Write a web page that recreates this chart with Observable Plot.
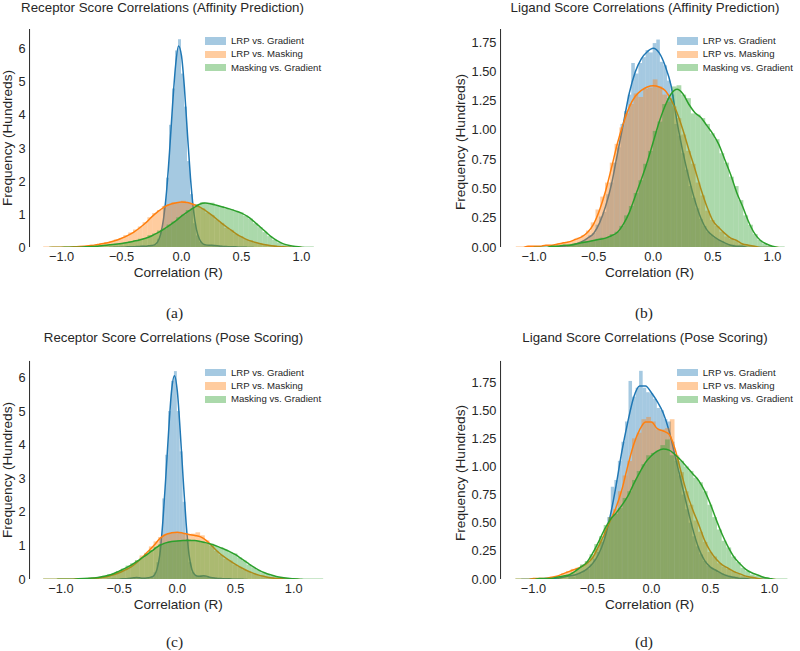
<!DOCTYPE html>
<html><head><meta charset="utf-8">
<script src="https://cdn.jsdelivr.net/npm/d3@7"></script>
<script src="https://cdn.jsdelivr.net/npm/@observablehq/plot@0.6"></script>
<style>
body{margin:0;background:#fff;}
#fig{position:relative;width:800px;height:651px;overflow:hidden;background:#fff;font-family:"Liberation Sans",Arial,sans-serif;color:#262626;}
#fig .t{position:absolute;white-space:nowrap;line-height:1.15;transform:translate(-50%,-50%);}
#fig .title{font-size:13.3px;}
#fig .alab{font-size:13.6px;}
#fig .ylab{font-size:13.6px;transform:translate(-50%,-50%) rotate(-90deg);}
#fig .cap{font-family:"Liberation Serif","Times New Roman",serif;font-size:15.5px;}
#fig .leg{position:absolute;white-space:nowrap;line-height:1;font-size:9.6px;transform:translateY(-50%);}
#fig .sw{position:absolute;width:21px;height:7.5px;}
#fig .plot{position:absolute;}
</style></head><body><div id="fig"></div>
<script>
// ---------------- data ----------------
const seriesNames = ["LRP vs. Gradient", "LRP vs. Masking", "Masking vs. Gradient"];
const panelTitles = [
  "Receptor Score Correlations (Affinity Prediction)",
  "Ligand Score Correlations (Affinity Prediction)",
  "Receptor Score Correlations (Pose Scoring)",
  "Ligand Score Correlations (Pose Scoring)"
];
const panelCaptions = ["(a)", "(b)", "(c)", "(d)"];
const xLabel = "Correlation (R)";
const yLabel = "Frequency (Hundreds)";
const xTicks = [-1, -0.5, 0, 0.5, 1];
const yTicksReceptor = [0, 1, 2, 3, 4, 5, 6];
const yTicksLigand = [0, 0.25, 0.5, 0.75, 1, 1.25, 1.5, 1.75];

// histogram bins: [first bin start, bin width], heights (hundreds)
// KDE curves: [first x, step], density values (hundreds)
// Panel (a) Receptor, Affinity Prediction
const aBlueBins = [-0.5, 0.025];
const aBlueHist = [0.01,0.01,0.02,0.01,0.02,0.03,0.02,0.04,0.03,0.04,0.04,0.06,0.25,0.52,1.25,2.1,3.7,4.8,5.95,6.29,5.25,4.25,2.6,1.6,0.72,0.35,0.16,0.09,0.07,0.06,0.07,0.05,0.04,0.04,0.03,0.02,0.02,0.02,0.01,0.01,0.01,0.01];
const aBlueKdeGrid = [-0.6, 0.025];
const aBlueKde = [0,0,0.01,0.01,0.01,0.01,0.02,0.02,0.02,0.03,0.03,0.04,0.04,0.05,0.06,0.08,0.16,0.39,0.86,1.68,2.88,4.28,5.48,6.1,5.8,4.8,3.41,2.1,1.13,0.54,0.25,0.12,0.08,0.07,0.07,0.06,0.05,0.04,0.03,0.03,0.02,0.02,0.02,0.01,0.01,0.01,0,0,0];
const aOrangeBins = [-1.0, 0.04];
const aOrangeHist = [0.01,0.01,0.02,0.02,0.04,0.05,0.07,0.09,0.12,0.15,0.17,0.23,0.27,0.36,0.44,0.53,0.62,0.75,0.90,1.03,1.12,1.24,1.29,1.36,1.34,1.40,1.33,1.31,1.22,1.17,1.04,0.97,0.83,0.73,0.58,0.52,0.40,0.33,0.24,0.20,0.14,0.12,0.08,0.06,0.04,0.03,0.02,0.01];
const aOrangeKdeGrid = [-1.15, 0.05];
const aOrangeKde = [0,0,0.01,0.01,0.01,0.02,0.03,0.04,0.06,0.09,0.12,0.16,0.21,0.28,0.36,0.46,0.59,0.74,0.92,1.08,1.21,1.30,1.35,1.38,1.36,1.30,1.23,1.12,0.99,0.84,0.69,0.56,0.43,0.32,0.23,0.17,0.12,0.08,0.05,0.03,0.02,0.01,0.01,0];
const aGreenBins = [-0.84, 0.04];
const aGreenHist = [0.01,0.02,0.03,0.04,0.05,0.07,0.09,0.10,0.12,0.14,0.18,0.20,0.25,0.27,0.36,0.41,0.50,0.56,0.68,0.77,0.90,0.98,1.12,1.18,1.30,1.36,1.33,1.34,1.25,1.24,1.16,1.15,1.09,1.05,0.95,0.86,0.72,0.60,0.45,0.33,0.22,0.14,0.08,0.05,0.02,0.01];
const aGreenKdeGrid = [-1.1, 0.05];
const aGreenKde = [0,0,0,0.01,0.01,0.01,0.02,0.03,0.04,0.06,0.08,0.10,0.12,0.15,0.19,0.23,0.28,0.35,0.44,0.55,0.67,0.80,0.95,1.08,1.20,1.31,1.35,1.32,1.27,1.22,1.17,1.11,1.04,0.94,0.80,0.64,0.48,0.32,0.20,0.11,0.06,0.03,0.01,0,0];

// Panel (b) Ligand, Affinity Prediction
const bBlueBins = [-0.75, 0.03];
const bBlueHist = [0.01,0.01,0.02,0.03,0.04,0.05,0.07,0.10,0.12,0.19,0.26,0.30,0.45,0.55,0.72,0.85,1.05,1.16,1.30,1.57,1.48,1.57,1.62,1.68,1.66,1.74,1.77,1.58,1.55,1.42,1.30,1.05,0.95,0.80,0.66,0.52,0.42,0.33,0.24,0.18,0.13,0.10,0.08,0.06,0.05,0.03,0.02,0.02,0.01,0.01];
const bBlueKdeGrid = [-1.0, 0.05];
const bBlueKde = [0,0,0,0,0.01,0.01,0.02,0.03,0.05,0.08,0.12,0.21,0.35,0.54,0.80,1.06,1.32,1.50,1.61,1.67,1.70,1.66,1.55,1.38,1.07,0.81,0.59,0.40,0.25,0.15,0.10,0.065,0.04,0.02,0.01,0.01,0,0,0,0,0];
const bOrangeBins = [-0.88, 0.04];
const bOrangeHist = [0.01,0.02,0.03,0.04,0.05,0.06,0.08,0.10,0.14,0.21,0.32,0.43,0.55,0.72,0.88,1.02,1.14,1.22,1.31,1.28,1.35,1.36,1.43,1.37,1.30,1.24,1.20,1.10,0.96,0.82,0.71,0.55,0.44,0.31,0.23,0.18,0.13,0.09,0.07,0.05,0.03,0.02,0.01,0.01];
const bOrangeKdeGrid = [-1.15, 0.05];
const bOrangeKde = [0,0,0.01,0.01,0.01,0.02,0.02,0.03,0.04,0.05,0.07,0.09,0.13,0.20,0.32,0.48,0.68,0.89,1.06,1.20,1.29,1.34,1.37,1.38,1.37,1.34,1.26,1.15,1.00,0.83,0.67,0.50,0.35,0.23,0.17,0.12,0.08,0.06,0.03,0.02,0.01,0,0,0,0];
const bGreenBins = [-0.72, 0.04];
const bGreenHist = [0.02,0.03,0.03,0.05,0.05,0.06,0.07,0.08,0.08,0.11,0.13,0.18,0.27,0.35,0.46,0.57,0.71,0.82,0.99,1.07,1.22,1.27,1.37,1.38,1.30,1.27,1.14,1.13,1.10,1.05,0.97,0.92,0.80,0.72,0.60,0.52,0.40,0.27,0.19,0.11,0.06,0.03,0.01];
const bGreenKdeGrid = [-1.0, 0.05];
const bGreenKde = [0,0,0,0.01,0.01,0.02,0.02,0.03,0.04,0.05,0.06,0.07,0.08,0.10,0.13,0.20,0.30,0.44,0.58,0.73,0.90,1.07,1.21,1.31,1.35,1.31,1.22,1.15,1.11,1.04,0.97,0.88,0.75,0.62,0.47,0.35,0.22,0.12,0.06,0.03,0.01,0,0];

// Panel (c) Receptor, Pose Scoring
const cBlueBins = [-0.5, 0.025];
const cBlueHist = [0.01,0.01,0.02,0.02,0.03,0.05,0.06,0.04,0.04,0.04,0.06,0.08,0.2,0.5,1.2,2.4,3.7,5.0,5.9,6.19,5.0,3.8,2.3,1.2,0.5,0.2,0.12,0.1,0.12,0.1,0.08,0.06,0.05,0.04,0.03,0.03,0.02,0.02,0.01,0.01,0.01,0.01];
const cBlueKdeGrid = [-0.6, 0.025];
const cBlueKde = [0,0,0.01,0.01,0.01,0.02,0.02,0.03,0.04,0.05,0.06,0.05,0.04,0.04,0.05,0.07,0.12,0.3,0.75,1.7,3.0,4.4,5.6,6.07,5.6,4.4,3.0,1.7,0.75,0.3,0.14,0.1,0.1,0.11,0.1,0.07,0.05,0.04,0.03,0.03,0.02,0.02,0.02,0.01,0.01,0.01,0.01,0,0];
const cOrangeBins = [-0.84, 0.04];
const cOrangeHist = [0.01,0.02,0.03,0.04,0.06,0.07,0.11,0.14,0.20,0.26,0.33,0.44,0.55,0.70,0.78,0.97,1.12,1.25,1.32,1.37,1.40,1.38,1.36,1.33,1.35,1.39,1.30,1.15,0.98,0.84,0.72,0.60,0.55,0.43,0.36,0.28,0.22,0.16,0.12,0.09,0.06,0.04,0.02,0.01,0.01];
const cOrangeKdeGrid = [-1.15, 0.05];
const cOrangeKde = [0,0,0,0.01,0.01,0.01,0.02,0.02,0.03,0.04,0.06,0.09,0.14,0.20,0.28,0.37,0.50,0.66,0.84,1.02,1.22,1.34,1.39,1.41,1.38,1.34,1.31,1.27,1.16,0.99,0.82,0.68,0.56,0.45,0.35,0.26,0.19,0.13,0.09,0.05,0.03,0.02,0.01,0,0];
const cGreenBins = [-0.88, 0.04];
const cGreenHist = [0.01,0.02,0.03,0.04,0.05,0.07,0.10,0.14,0.18,0.24,0.31,0.40,0.47,0.56,0.63,0.75,0.86,0.96,1.04,1.08,1.12,1.13,1.15,1.14,1.18,1.15,1.14,1.12,1.06,1.05,0.98,0.95,0.87,0.80,0.76,0.64,0.55,0.43,0.35,0.27,0.19,0.15,0.10,0.07,0.05,0.03,0.02,0.01];
const cGreenKdeGrid = [-1.15, 0.05];
const cGreenKde = [0,0,0,0.01,0.01,0.01,0.02,0.03,0.04,0.05,0.08,0.12,0.17,0.25,0.33,0.42,0.53,0.65,0.77,0.90,1.02,1.09,1.13,1.15,1.16,1.16,1.16,1.13,1.09,1.04,0.98,0.91,0.83,0.74,0.62,0.50,0.38,0.28,0.20,0.14,0.09,0.06,0.04,0.02,0.01,0,0,0,0];

// Panel (d) Ligand, Pose Scoring
const dBlueBins = [-0.7, 0.03];
const dBlueHist = [0.02,0.02,0.04,0.05,0.07,0.09,0.13,0.18,0.24,0.33,0.42,0.55,0.82,0.88,1.05,1.22,1.40,1.76,1.62,1.70,1.85,1.70,1.66,1.65,1.60,1.52,1.50,1.42,1.40,1.22,1.05,0.92,0.75,0.62,0.50,0.38,0.29,0.22,0.16,0.12,0.10,0.08,0.06,0.05,0.04,0.03,0.02,0.02,0.01,0.01];
const dBlueKdeGrid = [-1.1, 0.05];
const dBlueKde = [0,0,0,0,0.01,0.01,0.01,0.02,0.03,0.04,0.06,0.09,0.14,0.22,0.35,0.56,0.83,1.14,1.40,1.62,1.72,1.72,1.66,1.58,1.48,1.32,1.10,0.88,0.66,0.45,0.28,0.17,0.11,0.08,0.05,0.03,0.02,0.01,0.01,0,0,0,0];
const dOrangeBins = [-0.8, 0.04];
const dOrangeHist = [0.03,0.05,0.07,0.09,0.10,0.12,0.15,0.20,0.27,0.35,0.45,0.55,0.62,0.78,0.92,1.05,1.25,1.30,1.42,1.44,1.40,1.33,1.33,1.34,1.42,1.10,0.95,0.78,0.66,0.52,0.42,0.33,0.24,0.20,0.14,0.11,0.09,0.07,0.05,0.03,0.02,0.01,0.01];
const dOrangeKdeGrid = [-1.15, 0.05];
const dOrangeKde = [0,0,0,0.01,0.01,0.01,0.02,0.03,0.05,0.07,0.09,0.11,0.14,0.19,0.29,0.40,0.52,0.64,0.80,1.01,1.20,1.33,1.40,1.40,1.34,1.32,1.29,1.16,0.96,0.77,0.62,0.49,0.35,0.25,0.18,0.13,0.10,0.07,0.05,0.03,0.02,0.01,0,0,0];
const dGreenBins = [-0.8, 0.04];
const dGreenHist = [0.02,0.03,0.04,0.06,0.09,0.13,0.16,0.22,0.31,0.38,0.48,0.55,0.58,0.63,0.72,0.78,0.88,0.96,1.02,1.10,1.12,1.14,1.19,1.24,1.10,1.08,1.05,1.00,0.96,0.90,0.86,0.78,0.66,0.55,0.44,0.34,0.28,0.20,0.15,0.10,0.07,0.04,0.03,0.02,0.01];
const dGreenKdeGrid = [-1.15, 0.05];
const dGreenKde = [0,0,0,0,0.01,0.01,0.01,0.02,0.03,0.04,0.07,0.11,0.15,0.23,0.33,0.44,0.53,0.59,0.66,0.74,0.85,0.95,1.04,1.10,1.14,1.16,1.15,1.11,1.06,1.00,0.94,0.88,0.79,0.67,0.53,0.40,0.29,0.20,0.14,0.09,0.06,0.04,0.02,0.01,0,0,0];

// ---------------- styling & layout ----------------
const colors = ["#1f77b4", "#ff7f0e", "#2ca02c"];
const panels = [
  {series: [[aBlueBins,aBlueHist,aBlueKdeGrid,aBlueKde],[aOrangeBins,aOrangeHist,aOrangeKdeGrid,aOrangeKde],[aGreenBins,aGreenHist,aGreenKdeGrid,aGreenKde]],
   xDomain: [-1.267, 1.217], yDomain: [0, 6.6], yTicks: yTicksReceptor, yFmt: "d",
   box: {left: 0, top: 0, w: 340, h: 290, ml: 29, mr: 13, mt: 29, mb: 43},
   title: [162.5, 8], xlab: [178.3, 273], ylab: [7.5, 138.3], cap: [174.5, 313], leg: [205, 231, 41]},
  {series: [[bBlueBins,bBlueHist,bBlueKdeGrid,bBlueKde],[bOrangeBins,bOrangeHist,bOrangeKdeGrid,bOrangeKde],[bGreenBins,bGreenHist,bGreenKdeGrid,bGreenKde]],
   xDomain: [-1.281, 1.227], yDomain: [0, 1.86], yTicks: yTicksLigand, yFmt: ".2f",
   box: {left: 460, top: 0, w: 340, h: 290, ml: 40, mr: 1, mt: 29, mb: 43},
   title: [645, 8], xlab: [649.5, 273], ylab: [461, 142], cap: [644, 313], leg: [676.7, 702.7, 41]},
  {series: [[cBlueBins,cBlueHist,cBlueKdeGrid,cBlueKde],[cOrangeBins,cOrangeHist,cOrangeKdeGrid,cOrangeKde],[cGreenBins,cGreenHist,cGreenKdeGrid,cGreenKde]],
   xDomain: [-1.27, 1.29], yDomain: [0, 6.5], yTicks: yTicksReceptor, yFmt: "d",
   box: {left: 0, top: 330, w: 340, h: 290, ml: 29, mr: 13, mt: 30.7, mb: 41},
   title: [173.5, 338], xlab: [178.3, 605], ylab: [7.5, 470], cap: [174.5, 642], leg: [205, 231, 372.7]},
  {series: [[dBlueBins,dBlueHist,dBlueKdeGrid,dBlueKde],[dOrangeBins,dOrangeHist,dOrangeKdeGrid,dOrangeKde],[dGreenBins,dGreenHist,dGreenKdeGrid,dGreenKde]],
   xDomain: [-1.279, 1.255], yDomain: [0, 1.94], yTicks: yTicksLigand, yFmt: ".2f",
   box: {left: 460, top: 330, w: 340, h: 290, ml: 40, mr: 1, mt: 30.7, mb: 41},
   title: [645, 338], xlab: [649.5, 605], ylab: [461, 472.5], cap: [644, 642], leg: [676.7, 702.7, 372.7]}
];

const fig = document.getElementById("fig");
function addText(txt, cls, x, y) {
  const d = document.createElement("div");
  d.className = "t " + cls;
  d.textContent = txt;
  d.style.left = x + "px"; d.style.top = y + "px";
  fig.appendChild(d);
}

panels.forEach((p, pi) => {
  const marks = [];
  p.series.forEach(([bins, hist, grid, kde], i) => {
    const rects = hist.map((v, j) => ({x1: bins[0] + j * bins[1], x2: bins[0] + (j + 1) * bins[1], y: v}));
    const pts = kde.map((v, j) => ({x: grid[0] + j * grid[1], y: v}));
    marks.push(Plot.rect(rects, {x1: "x1", x2: "x2", y1: 0, y2: "y", fill: colors[i], fillOpacity: 0.4}));
    marks.push(Plot.line(pts, {x: "x", y: "y", stroke: colors[i], strokeWidth: 1.5, curve: "monotone-x"}));
  });
  marks.push(Plot.ruleY([0], {stroke: "#333", strokeWidth: 1.1}));
  marks.push(Plot.ruleX([p.xDomain[0]], {stroke: "#333", strokeWidth: 1.1}));
  const b = p.box;
  const chart = Plot.plot({
    width: b.w, height: b.h,
    marginLeft: b.ml, marginRight: b.mr, marginTop: b.mt, marginBottom: b.mb,
    clip: true,
    x: {domain: p.xDomain, ticks: xTicks, tickFormat: d3.format(".1f"), tickSize: 0, tickPadding: 4, label: null},
    y: {domain: p.yDomain, ticks: p.yTicks, tickFormat: d3.format(p.yFmt), tickSize: 0, tickPadding: 4, label: null},
    style: {fontFamily: "'Liberation Sans', Arial, sans-serif", fontSize: "12.8px", color: "#262626", background: "transparent", overflow: "visible"},
    marks
  });
  const wrap = document.createElement("div");
  wrap.className = "plot";
  wrap.style.left = b.left + "px"; wrap.style.top = b.top + "px";
  wrap.appendChild(chart);
  fig.appendChild(wrap);

  addText(panelTitles[pi], "title", p.title[0], p.title[1]);
  addText(xLabel, "alab", p.xlab[0], p.xlab[1]);
  addText(yLabel, "ylab", p.ylab[0], p.ylab[1]);
  addText(panelCaptions[pi], "cap", p.cap[0], p.cap[1]);

  seriesNames.forEach((name, i) => {
    const cy = p.leg[2] + i * 13.3;
    const sw = document.createElement("div");
    sw.className = "sw";
    sw.style.left = p.leg[0] + "px"; sw.style.top = (cy - 3.75) + "px";
    sw.style.background = colors[i]; sw.style.opacity = 0.4;
    fig.appendChild(sw);
    const t = document.createElement("div");
    t.className = "leg";
    t.textContent = name;
    t.style.left = p.leg[1] + "px"; t.style.top = cy + "px";
    fig.appendChild(t);
  });
});
</script></body></html>
